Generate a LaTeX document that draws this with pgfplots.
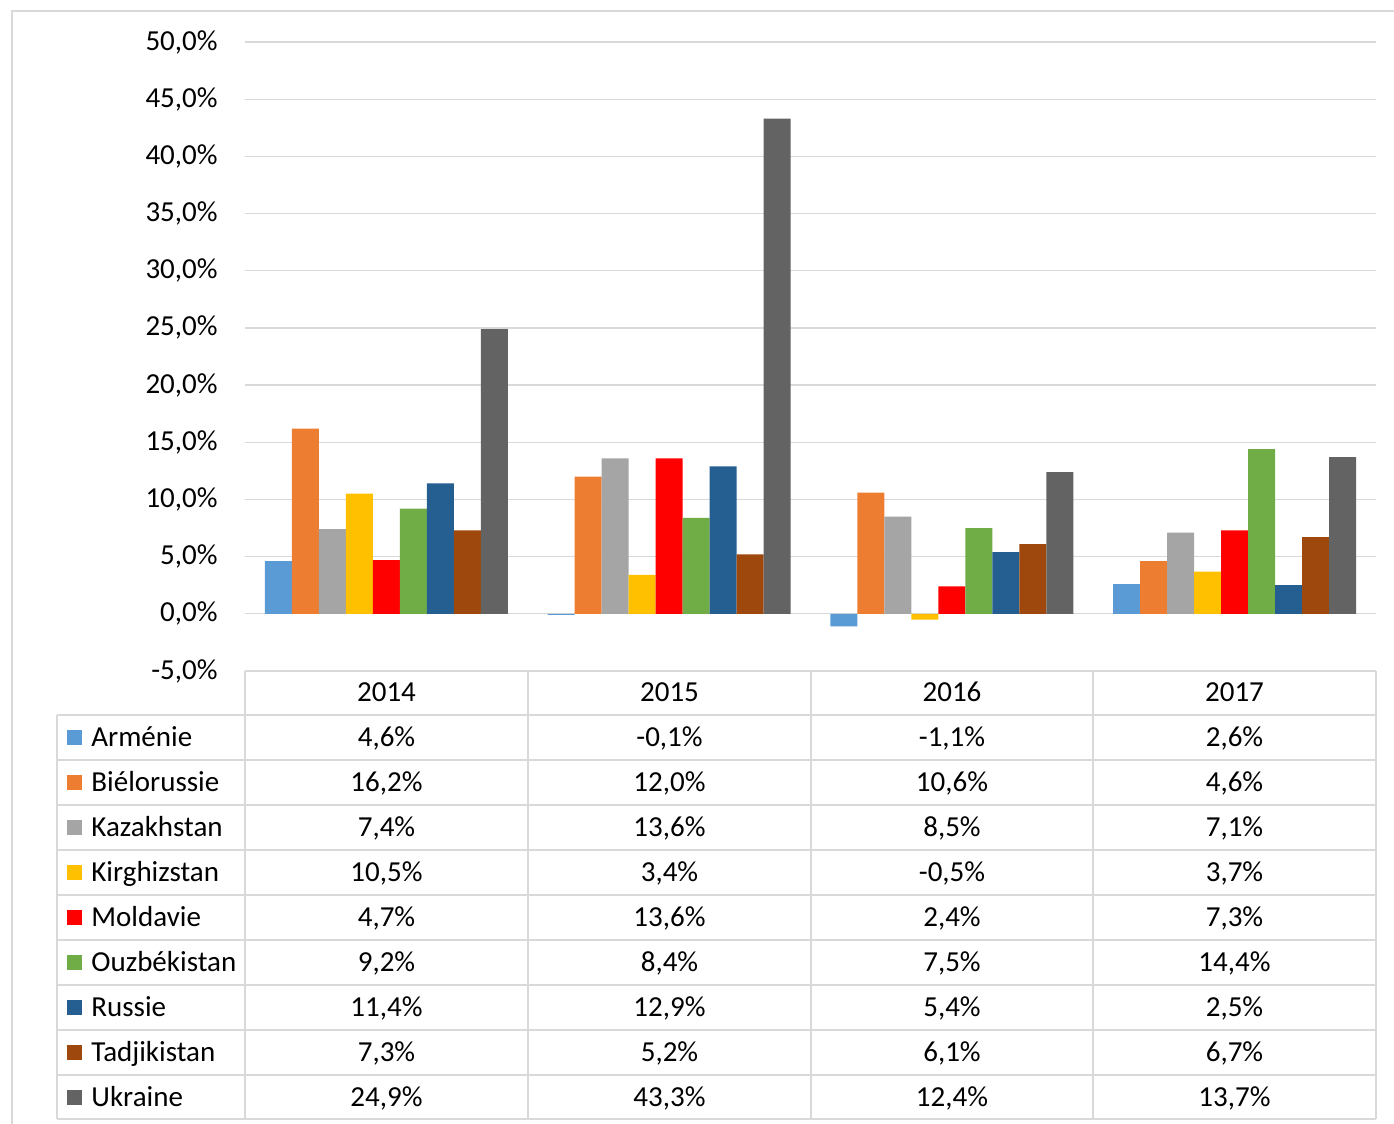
\documentclass[border=0pt]{standalone}
\usepackage{fontspec}
\setmainfont{Carlito}
\usepackage{pgfplots}
\pgfplotsset{compat=1.18}
\usepackage{pgfplotstable}

\definecolor{cArm}{HTML}{5B9BD5}
\definecolor{cBie}{HTML}{ED7D31}
\definecolor{cKaz}{HTML}{A5A5A5}
\definecolor{cKir}{HTML}{FFC000}
\definecolor{cMol}{HTML}{FF0000}
\definecolor{cOuz}{HTML}{70AD47}
\definecolor{cRus}{HTML}{255E91}
\definecolor{cTad}{HTML}{9E480E}
\definecolor{cUkr}{HTML}{636363}
\definecolor{gridc}{HTML}{D9D9D9}

\pgfplotstableread{
x Arm Bie Kaz Kir Mol Ouz Rus Tad Ukr
0 4.6 16.2 7.4 10.5 4.7 9.2 11.4 7.3 24.9
1 -0.1 12.0 13.6 3.4 13.6 8.4 12.9 5.2 43.3
2 -1.1 10.6 8.5 -0.5 2.4 7.5 5.4 6.1 12.4
3 2.6 4.6 7.1 3.7 7.3 14.4 2.5 6.7 13.7
}\data

\newcommand\trow[7]{%
  \pgfmathsetmacro\cy{715+45*#1+22.5}%
  \fill[#3] (67,\cy-7.5) rectangle (82,\cy+7.5);
  \node[anchor=base west, inner sep=0pt] at (91,\cy+9) {#2};
  \node[anchor=base, inner sep=0pt] at (386.5,\cy+9) {#4\%};
  \node[anchor=base, inner sep=0pt] at (669.5,\cy+9) {#5\%};
  \node[anchor=base, inner sep=0pt] at (952,\cy+9) {#6\%};
  \node[anchor=base, inner sep=0pt] at (1234.5,\cy+9) {#7\%};
}

\begin{document}
\begin{tikzpicture}[font=\fontsize{14.5}{17}\selectfont]
\useasboundingbox (-122.5pt,-226.5pt) rectangle (574.5pt,335.5pt);
\begin{scope}[x=0.5pt,y=-0.5pt,shift={(-245,-671)}]
  \draw[gridc, line width=1pt] (12,1300) -- (12,11) -- (1500,11);
\end{scope}
\begin{axis}[
  at={(0,0)}, anchor=south west,
  scale only axis, width=565.5pt, height=314.5pt,
  xmin=-0.5, xmax=3.5, ymin=-5, ymax=50,
  ybar=0pt, bar width=13.5pt,
  axis line style={draw=none},
  major tick style={draw=none},
  xtick=\empty,
  ytick={-5,0,5,10,15,20,25,30,35,40,45,50},
  yticklabels={{-5,0\%},{0,0\%},{5,0\%},{10,0\%},{15,0\%},{20,0\%},{25,0\%},{30,0\%},{35,0\%},{40,0\%},{45,0\%},{50,0\%}},
  yticklabel style={anchor=east, inner sep=0pt, xshift=-13.5pt},
  ymajorgrids, grid style={gridc, line width=0.6pt},
  clip=false,
]
\addplot[fill=cArm, draw=none] table[x=x,y=Arm]{\data};
\addplot[fill=cBie, draw=none] table[x=x,y=Bie]{\data};
\addplot[fill=cKaz, draw=none] table[x=x,y=Kaz]{\data};
\addplot[fill=cKir, draw=none] table[x=x,y=Kir]{\data};
\addplot[fill=cMol, draw=none] table[x=x,y=Mol]{\data};
\addplot[fill=cOuz, draw=none] table[x=x,y=Ouz]{\data};
\addplot[fill=cRus, draw=none] table[x=x,y=Rus]{\data};
\addplot[fill=cTad, draw=none] table[x=x,y=Tad]{\data};
\addplot[fill=cUkr, draw=none] table[x=x,y=Ukr]{\data};
\end{axis}
\begin{scope}[x=0.5pt,y=-0.5pt,shift={(-245,-671)}]
  \draw[gridc, line width=0.6pt] (245,671) -- (1376,671);
  \foreach \yy in {715,760,805,850,895,940,985,1030,1075,1119}
    \draw[gridc, line width=0.6pt] (57,\yy) -- (1376,\yy);
  \foreach \xx in {245,528,811,1093,1376}
    \draw[gridc, line width=0.6pt] (\xx,671) -- (\xx,1119);
  \draw[gridc, line width=0.6pt] (57,715) -- (57,1119);
  \node[anchor=base, inner sep=0pt] at (386.5,702) {2014};
  \node[anchor=base, inner sep=0pt] at (669.5,702) {2015};
  \node[anchor=base, inner sep=0pt] at (952,702) {2016};
  \node[anchor=base, inner sep=0pt] at (1234.5,702) {2017};
  \trow{0}{Arménie}{cArm}{4,6}{-0,1}{-1,1}{2,6}
  \trow{1}{Biélorussie}{cBie}{16,2}{12,0}{10,6}{4,6}
  \trow{2}{Kazakhstan}{cKaz}{7,4}{13,6}{8,5}{7,1}
  \trow{3}{Kirghizstan}{cKir}{10,5}{3,4}{-0,5}{3,7}
  \trow{4}{Moldavie}{cMol}{4,7}{13,6}{2,4}{7,3}
  \trow{5}{Ouzbékistan}{cOuz}{9,2}{8,4}{7,5}{14,4}
  \trow{6}{Russie}{cRus}{11,4}{12,9}{5,4}{2,5}
  \trow{7}{Tadjikistan}{cTad}{7,3}{5,2}{6,1}{6,7}
  \trow{8}{Ukraine}{cUkr}{24,9}{43,3}{12,4}{13,7}
\end{scope}
\end{tikzpicture}
\end{document}
